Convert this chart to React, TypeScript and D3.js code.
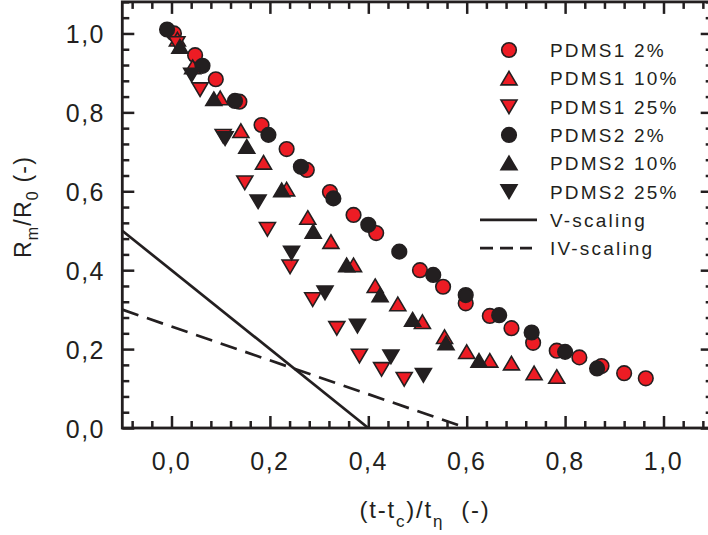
import { useEffect, useRef } from "react";
import * as d3 from "d3";

// values
const P1_2_X = [0.005, 0.048, 0.090, 0.138, 0.183, 0.234, 0.275, 0.322, 0.370, 0.416, 0.505, 0.552, 0.598, 0.647, 0.691, 0.735, 0.783, 0.829, 0.874, 0.920, 0.964];
const P1_2_Y = [1.000, 0.945, 0.884, 0.827, 0.768, 0.707, 0.654, 0.598, 0.540, 0.494, 0.400, 0.358, 0.316, 0.284, 0.253, 0.216, 0.196, 0.179, 0.157, 0.139, 0.126];
const P1_10_X = [0.012, 0.043, 0.099, 0.141, 0.187, 0.234, 0.277, 0.324, 0.370, 0.414, 0.460, 0.510, 0.555, 0.600, 0.647, 0.691, 0.737, 0.783];
const P1_10_Y = [0.985, 0.915, 0.836, 0.753, 0.673, 0.605, 0.533, 0.472, 0.413, 0.360, 0.314, 0.269, 0.231, 0.193, 0.171, 0.164, 0.139, 0.130];
const P1_25_X = [0.011, 0.058, 0.105, 0.149, 0.195, 0.241, 0.287, 0.336, 0.382, 0.427, 0.473];
const P1_25_Y = [0.975, 0.858, 0.740, 0.622, 0.504, 0.409, 0.326, 0.253, 0.183, 0.149, 0.124];
const P2_2_X = [-0.009, 0.063, 0.129, 0.197, 0.263, 0.329, 0.400, 0.463, 0.532, 0.598, 0.666, 0.732, 0.800, 0.865];
const P2_2_Y = [1.010, 0.918, 0.829, 0.743, 0.662, 0.582, 0.515, 0.447, 0.388, 0.337, 0.286, 0.242, 0.193, 0.151];
const P2_10_X = [0.017, 0.086, 0.153, 0.224, 0.288, 0.356, 0.424, 0.490, 0.558, 0.625];
const P2_10_Y = [0.967, 0.834, 0.713, 0.603, 0.498, 0.413, 0.337, 0.275, 0.215, 0.171];
const P2_25_X = [0.041, 0.109, 0.176, 0.244, 0.312, 0.378, 0.446, 0.512];
const P2_25_Y = [0.895, 0.734, 0.574, 0.444, 0.343, 0.259, 0.181, 0.134];

const V_SCALING = [[-0.1, 0.5], [0.4, 0.0]];
const IV_SCALING = [[-0.1, 0.3], [0.6, 0.0]];

const X_TICKS = [0, 0.2, 0.4, 0.6, 0.8, 1.0];
const Y_TICKS = [0, 0.2, 0.4, 0.6, 0.8, 1.0];

const SERIES = [
    { name: "PDMS1 2%", xs: P1_2_X, ys: P1_2_Y, shape: "circle", red: true },
    { name: "PDMS1 10%", xs: P1_10_X, ys: P1_10_Y, shape: "up", red: true },
    { name: "PDMS1 25%", xs: P1_25_X, ys: P1_25_Y, shape: "down", red: true },
    { name: "PDMS2 2%", xs: P2_2_X, ys: P2_2_Y, shape: "circle", red: false },
    { name: "PDMS2 10%", xs: P2_10_X, ys: P2_10_Y, shape: "up", red: false },
    { name: "PDMS2 25%", xs: P2_25_X, ys: P2_25_Y, shape: "down", red: false },
];

const INK = "#231f20";
const RED = "#ed1c24";
const FONT = '"Liberation Sans", Arial, Helvetica, sans-serif';

function comma(v: number) {
    return d3.format(".1f")(v).replace(".", ",");
}

function markerPath(shape: string) {
    if (shape === "circle") return d3.symbol(d3.symbolCircle, Math.PI * 7.3 * 7.3)();
    if (shape === "up") return "M0,-7L8,6.6L-8,6.6Z";
    return "M0,7L8,-6.6L-8,-6.6Z";
}

export default function App() {
    const svgRef = useRef<SVGSVGElement>(null);

    useEffect(() => {
        const svg = d3.select(svgRef.current);
        svg.selectAll("*").remove();

        const left = 122.3, right = 712.7, top = 1.9, bottom = 428;
        const x = d3.scaleLinear().domain([-0.1, 1.1]).range([left, right]);
        const y = d3.scaleLinear().domain([0, 1.08]).range([bottom, top]);

        const minorX = d3.range(-2, 28).filter(i => i % 5 !== 0).map(i => i * 0.04);
        const minorY = d3.range(1, 28).filter(i => i % 5 !== 0).map(i => i * 0.04);

        /* ticks, all pointing inward */
        const axes = svg.append("g");
        const addAxis = (axis: any, tx: number, ty: number) => {
            const g = axes.append("g").attr("transform", `translate(${tx},${ty})`).call(axis);
            g.select(".domain").remove();
            g.selectAll("line").attr("stroke", INK).attr("stroke-width", 2.5);
        };
        addAxis(d3.axisBottom(x).tickValues(X_TICKS).tickSize(-12).tickFormat(() => ""), 0, bottom);
        addAxis(d3.axisBottom(x).tickValues(minorX).tickSize(-7).tickFormat(() => ""), 0, bottom);
        addAxis(d3.axisTop(x).tickValues(X_TICKS).tickSize(-12).tickFormat(() => ""), 0, top);
        addAxis(d3.axisTop(x).tickValues(minorX).tickSize(-7).tickFormat(() => ""), 0, top);
        addAxis(d3.axisLeft(y).tickValues(Y_TICKS).tickSize(-12).tickFormat(() => ""), left, 0);
        addAxis(d3.axisLeft(y).tickValues(minorY).tickSize(-7).tickFormat(() => ""), left, 0);
        addAxis(d3.axisRight(y).tickValues(Y_TICKS).tickSize(-12).tickFormat(() => ""), right, 0);
        addAxis(d3.axisRight(y).tickValues(minorY).tickSize(-7).tickFormat(() => ""), right, 0);

        /* frame */
        svg.append("rect")
            .attr("x", left).attr("y", top)
            .attr("width", right - left).attr("height", bottom - top)
            .attr("fill", "none").attr("stroke", INK).attr("stroke-width", 2.8);

        /* tick labels */
        svg.append("g").selectAll("text").data(X_TICKS).join("text")
            .attr("x", d => x(d)).attr("y", 470)
            .attr("text-anchor", "middle")
            .attr("font-size", 25).attr("letter-spacing", 1.5)
            .attr("fill", INK)
            .text(d => comma(d));
        svg.append("g").selectAll("text").data(Y_TICKS).join("text")
            .attr("x", 105).attr("y", d => y(d) + 9.5)
            .attr("text-anchor", "end")
            .attr("font-size", 25).attr("letter-spacing", 1.5)
            .attr("fill", INK)
            .text(d => comma(d));

        /* axis titles */
        const xt = svg.append("text")
            .attr("x", 425).attr("y", 518)
            .attr("text-anchor", "middle")
            .attr("font-size", 24).attr("letter-spacing", 1.8)
            .attr("fill", INK);
        xt.append("tspan").text("(t-t");
        xt.append("tspan").attr("font-size", 17).attr("dy", 9).text("c");
        xt.append("tspan").attr("dy", -9).text(")/t");
        xt.append("tspan").attr("font-size", 17).attr("dy", 9).text("η");
        xt.append("tspan").attr("dy", -9).text("\u00a0 (-)");

        const yt = svg.append("text")
            .attr("transform", "translate(31,207) rotate(-90)")
            .attr("text-anchor", "middle")
            .attr("font-size", 23).attr("letter-spacing", 1.2)
            .attr("fill", INK);
        yt.append("tspan").text("R");
        yt.append("tspan").attr("font-size", 16).attr("dy", 7).text("m");
        yt.append("tspan").attr("dy", -7).text("/R");
        yt.append("tspan").attr("font-size", 16).attr("dy", 7).text("0");
        yt.append("tspan").attr("dy", -7).text(" (-)");

        /* scaling lines */
        const clip = svg.append("clipPath").attr("id", "plot-clip");
        clip.append("rect").attr("x", left).attr("y", top).attr("width", right - left).attr("height", bottom - top);
        const line = d3.line<number[]>().x(d => x(d[0])).y(d => y(d[1]));
        const lines = svg.append("g").attr("clip-path", "url(#plot-clip)");
        lines.append("path").attr("d", line(V_SCALING))
            .attr("fill", "none").attr("stroke", INK).attr("stroke-width", 2.7);
        lines.append("path").attr("d", line(IV_SCALING))
            .attr("fill", "none").attr("stroke", INK).attr("stroke-width", 2.7)
            .attr("stroke-dasharray", "17,9");

        /* markers */
        const marks = svg.append("g");
        SERIES.forEach(s => {
            marks.append("g").selectAll("path").data(s.xs.map((v, i) => [v, s.ys[i]])).join("path")
                .attr("transform", d => `translate(${x(d[0])},${y(d[1])})`)
                .attr("d", markerPath(s.shape))
                .attr("fill", s.red ? RED : INK)
                .attr("stroke", INK).attr("stroke-width", 1.6);
        });

        /* legend */
        const legend = svg.append("g");
        SERIES.forEach((s, i) => {
            const cy = 50 + i * 28.3;
            legend.append("path")
                .attr("transform", `translate(509,${cy})`)
                .attr("d", markerPath(s.shape))
                .attr("fill", s.red ? RED : INK)
                .attr("stroke", INK).attr("stroke-width", 1.6);
            legend.append("text")
                .attr("x", 550).attr("y", cy + 7)
                .attr("font-size", 19).attr("letter-spacing", 2.2)
                .attr("fill", INK)
                .text(s.name);
        });
        const ly1 = 50 + 6 * 28.3, ly2 = 50 + 7 * 28.3;
        legend.append("line").attr("x1", 480).attr("x2", 537).attr("y1", ly1).attr("y2", ly1)
            .attr("stroke", INK).attr("stroke-width", 2.7);
        legend.append("text").attr("x", 550).attr("y", ly1 + 7)
            .attr("font-size", 19).attr("letter-spacing", 2.2).attr("fill", INK).text("V-scaling");
        legend.append("line").attr("x1", 480).attr("x2", 532).attr("y1", ly2).attr("y2", ly2)
            .attr("stroke", INK).attr("stroke-width", 2.7).attr("stroke-dasharray", "13,7");
        legend.append("text").attr("x", 550).attr("y", ly2 + 7)
            .attr("font-size", 19).attr("letter-spacing", 2.2).attr("fill", INK).text("IV-scaling");
    }, []);

    return (
        <svg ref={svgRef} width={708} height={535}
            style={{ position: "absolute", left: 0, top: 0, background: "#fff", fontFamily: FONT }} />
    );
}
